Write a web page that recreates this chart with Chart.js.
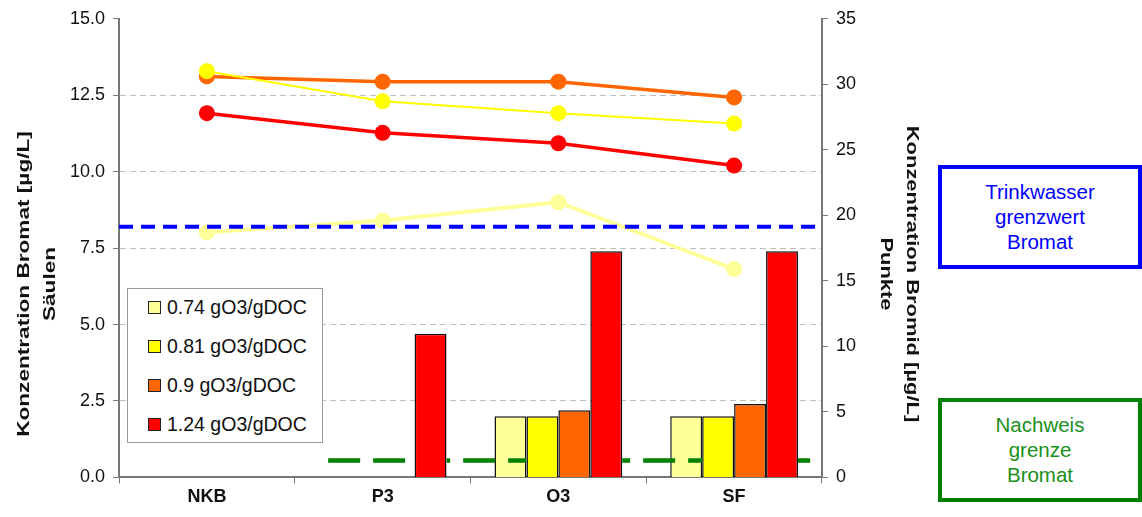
<!DOCTYPE html>
<html>
<head>
<meta charset="utf-8">
<script src="https://cdn.jsdelivr.net/npm/chart.js@4/dist/chart.umd.min.js"></script>
<style>
    body { margin: 0; background: #fff; font-family: 'Liberation Sans', Arial, sans-serif; }
    #wrap { position: absolute; left: 0; top: 0; width: 930px; height: 517px; }
    #legend { position: absolute; left: 127px; top: 288px; width: 196px; height: 155px;
        border: 1px solid #999; background: #fff; box-sizing: border-box; padding-top: 6px; }
    #legend .item { height: 39px; line-height: 24px; font-size: 19.5px; color: #111; padding-left: 20px; white-space: nowrap; }
    #legend .box { display: inline-block; width: 11px; height: 11px; border: 1px solid #222;
        margin-right: 6px; vertical-align: 0px; }
    .note { position: absolute; left: 938px; width: 204px; height: 104px; box-sizing: border-box;
        border: 4px solid; text-align: center; font-size: 20.5px; line-height: 25px; padding-top: 10px; }
    #note1 { top: 165px; border-color: #0000ff; color: #0000ff; }
    #note2 { top: 398px; border-color: #008000; color: #1a8f1a; }
    .ytitle { position: absolute; width: 400px; text-align: center; font-weight: bold; font-size: 17px;
        line-height: 26px; color: #111; white-space: nowrap; }
    #ytitle1 { left: -163px; top: 258px; transform: rotate(-90deg) scaleX(1.33); }
    #ytitle2 { left: 699px; top: 248px; transform: rotate(90deg) scaleX(1.29); }
</style>
</head>
<body>
<div id="wrap"><canvas id="mychart"></canvas></div>
<div id="legend"></div>
<div class="ytitle" id="ytitle1">Konzentration Bromat [µg/L]<br>Säulen</div>
<div class="ytitle" id="ytitle2">Konzentration Bromid [µg/L]<br>Punkte</div>
<div class="note" id="note1">Trinkwasser<br>grenzwert<br>Bromat</div>
<div class="note" id="note2">Nachweis<br>grenze<br>Bromat</div>
<script>
var categories = ['NKB', 'P3', 'O3', 'SF']
var seriesLabels = ['0.74 gO3/gDOC', '0.81 gO3/gDOC', '0.9 gO3/gDOC', '1.24 gO3/gDOC']
var colors = ['#ffff99', '#ffff00', '#ff6600', '#ff0000']

// Bromat [ug/L], Säulen (left axis)
var bromat074 = [null, null, 2.0, 2.0]
var bromat081 = [null, null, 2.0, 2.0]
var bromat090 = [null, null, 2.2, 2.4]
var bromat124 = [null, 4.7, 7.4, 7.4]

// Bromid [ug/L], Punkte (right axis)
var bromid074 = [18.7, 19.6, 21.0, 15.9]
var bromid081 = [31.0, 28.7, 27.8, 27.0]
var bromid090 = [30.6, 30.2, 30.2, 29.0]
var bromid124 = [27.8, 26.3, 25.5, 23.8]

// limits on the Bromat axis, with their extent in category units
var grenzwert = 8.2
var grenzwertSpan = [-0.5, 3.5]
var nachweisgrenze = 0.55
var nachweisSpan = [0.69, 3.45]

var leftTicks = [0, 15, 2.5]
var rightTicks = [0, 35, 5]

var bars = [bromat074, bromat081, bromat090, bromat124]
var points = [bromid074, bromid081, bromid090, bromid124]
var lineWidths = [4, 2, 3.5, 3.5]

var datasets = []
bars.forEach((d, i) => {
    datasets.push({
        type: 'bar', label: seriesLabels[i], data: d, yAxisID: 'y', order: 5,
        backgroundColor: colors[i], borderColor: '#111', borderWidth: 1.5,
        barPercentage: 1, categoryPercentage: 0.727
    })
})
points.forEach((d, i) => {
    datasets.push({
        type: 'line', label: seriesLabels[i], data: d, yAxisID: 'y2', order: 1,
        borderColor: colors[i], borderWidth: lineWidths[i], backgroundColor: colors[i],
        pointRadius: 8, pointBorderWidth: 0, pointBackgroundColor: colors[i], tension: 0
    })
})

// dashed limit lines, placed through the chart's own scales
function limitLine(chart, value, span, color, width, dash, hideUnder) {
    var ctx = chart.ctx, x = chart.scales.x, y = chart.scales.y, a = chart.chartArea
    var py = y.getPixelForValue(value)
    ctx.save()
    if (hideUnder) {
        // keep the line out of the given bar datasets
        ctx.beginPath()
        ctx.rect(a.left, a.top, a.right - a.left, a.bottom - a.top)
        hideUnder.forEach(k => {
            chart.getDatasetMeta(k).data.forEach(el => {
                if (el.y == null || isNaN(el.y)) return
                ctx.rect(el.x - el.width / 2, el.y, el.width, el.base - el.y)
            })
        })
        ctx.clip('evenodd')
    }
    ctx.strokeStyle = color
    ctx.lineWidth = width
    ctx.setLineDash(dash)
    ctx.beginPath()
    ctx.moveTo(x.getPixelForValue(span[0]), py)
    ctx.lineTo(x.getPixelForValue(span[1]), py)
    ctx.stroke()
    ctx.restore()
}

var limits = {
    id: 'limits',
    afterDatasetsDraw(chart) {
        // green runs over the palest bars but under the other ones, like the original
        limitLine(chart, nachweisgrenze, nachweisSpan, '#008000', 4.5, [32, 13], [1, 2, 3])
        limitLine(chart, grenzwert, grenzwertSpan, '#0000ff', 4, [14, 8])
    }
}

var legend = document.getElementById('legend')
seriesLabels.forEach((t, i) => {
    var row = document.createElement('div')
    row.className = 'item'
    row.innerHTML = '<span class="box" style="background:' + colors[i] + '"></span>' + t
    legend.appendChild(row)
})

var family = "'Liberation Sans', Arial, sans-serif"

var mychart = new Chart(document.getElementById('mychart'), {
    type: 'bar',
    data: { labels: categories, datasets: datasets },
    plugins: [limits],
    options: {
        maintainAspectRatio: false,
        animation: false,
        layout: { padding: { top: 8, left: 62, right: 66, bottom: 6 } },
        plugins: { legend: { display: false }, tooltip: { enabled: false } },
        scales: {
            x: {
                offset: true,
                grid: { offset: true, drawOnChartArea: false, tickLength: 6, tickColor: '#777' },
                border: { color: '#777', width: 2 },
                ticks: { color: '#111', font: { family: family, size: 18, weight: 'bold' }, padding: 3 }
            },
            y: {
                position: 'left', min: leftTicks[0], max: leftTicks[1],
                ticks: { stepSize: leftTicks[2], color: '#111', font: { family: family, size: 18 }, padding: 8,
                    callback: v => v.toFixed(1) },
                grid: {
                    color: c => (c.tick && (c.tick.value === 0 || c.tick.value === 15)) ? 'rgba(0,0,0,0)' : '#bdbdbd',
                    tickColor: '#777', tickLength: 6, tickBorderDash: [6, 0]
                },
                border: { color: '#777', width: 2, dash: [6, 4] }
            },
            y2: {
                position: 'right', min: rightTicks[0], max: rightTicks[1],
                ticks: { stepSize: rightTicks[2], color: '#111', font: { family: family, size: 18 }, padding: 8 },
                grid: { drawOnChartArea: false, tickColor: '#777', tickLength: 6 },
                border: { color: '#777', width: 2 }
            }
        }
    }
})
</script>
</body>
</html>
